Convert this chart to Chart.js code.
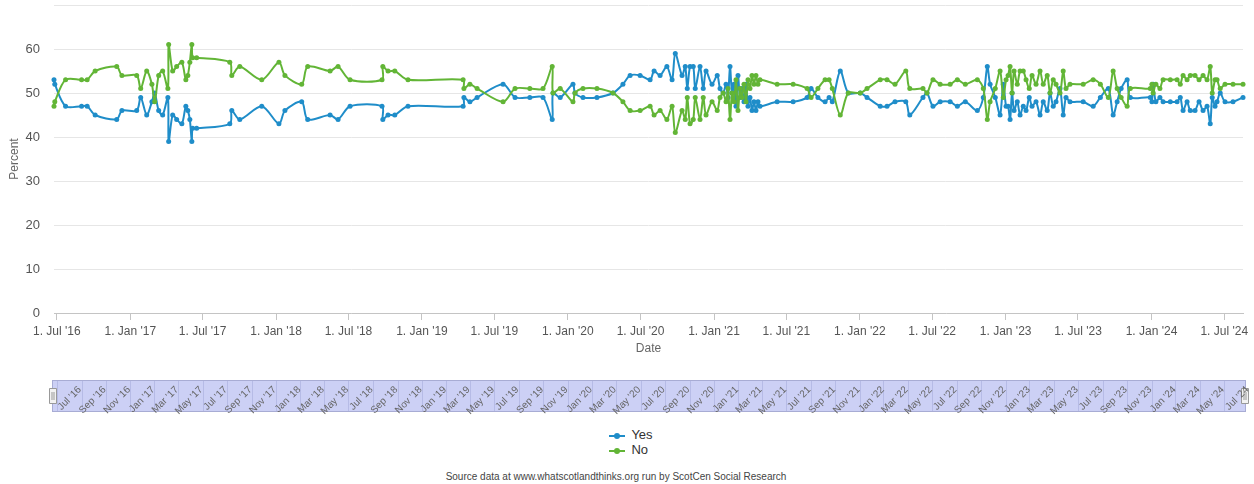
<!DOCTYPE html>
<html>
<head>
<meta charset="utf-8">
<script src="https://cdn.jsdelivr.net/npm/chart.js@4.4.1/dist/chart.umd.min.js"></script>
<style>
  body { margin: 0; background: #fff; font-family: "Liberation Sans", Arial, sans-serif; }
  #wrap { position: relative; width: 1254px; height: 484px; overflow: hidden; }
  canvas { position: absolute; left: 0; }
  #main { top: 0; }
  #nav { top: 370px; }
  #legend { position: absolute; top: 427px; left: 0; width: 1262px; text-align: center; }
  #legend .box { display: inline-block; text-align: left; }
  #legend .item { font-size: 13px; line-height: 15px; color: #333; white-space: nowrap; }
  #legend .mark { display: inline-block; position: relative; width: 16px; height: 2px; margin-right: 6px; vertical-align: middle; }
  #legend .mark::after { content: ""; position: absolute; left: 5px; top: -2px; width: 6px; height: 6px; border-radius: 50%; background: inherit; }
  #source { position: absolute; top: 470px; left: 0; width: 1232px; text-align: center; font-size: 10px; line-height: 14px; color: #444; }
</style>
</head>
<body>
<div id="wrap">
  <canvas id="main" width="1254" height="365"></canvas>
  <canvas id="nav" width="1254" height="50"></canvas>
  <div id="legend"><div class="box"></div></div>
  <div id="source">Source data at www.whatscotlandthinks.org run by ScotCen Social Research</div>
</div>
<script>
// poll fieldwork dates
const pollDates = [
  '2016-06-24','2016-06-26','2016-07-23','2016-09-01','2016-09-15','2016-10-05','2016-11-28','2016-12-11',
  '2017-01-17','2017-01-27','2017-02-11','2017-02-24','2017-03-03','2017-03-13','2017-03-23','2017-04-05',
  '2017-04-07','2017-04-17','2017-04-27','2017-05-10','2017-05-20','2017-05-25','2017-05-30','2017-06-04',
  '2017-06-06','2017-06-16','2017-09-07','2017-09-12','2017-10-02','2017-11-26',
  '2018-01-08','2018-01-23','2018-03-06','2018-03-21','2018-05-16','2018-06-05','2018-07-05','2018-09-23',
  '2018-09-25','2018-10-08','2018-10-25','2018-11-27',
  '2019-04-14','2019-04-16','2019-05-01','2019-05-19','2019-07-23','2019-08-22','2019-09-28','2019-10-31',
  '2019-11-23','2019-11-25','2019-12-13',
  '2020-01-14','2020-01-19','2020-02-08','2020-03-14','2020-04-23','2020-05-18','2020-06-05','2020-06-30',
  '2020-07-25','2020-08-04','2020-08-19','2020-09-05','2020-09-18','2020-09-26','2020-10-13','2020-10-21',
  '2020-10-26','2020-11-02','2020-11-10','2020-11-15','2020-11-27','2020-12-05','2020-12-12','2020-12-27',
  '2021-01-09','2021-01-16','2021-01-24','2021-01-31','2021-02-05','2021-02-10','2021-02-15','2021-02-20',
  '2021-02-25','2021-03-02','2021-03-07','2021-03-12','2021-03-17','2021-03-22','2021-03-27','2021-04-01',
  '2021-04-06','2021-04-11','2021-04-16','2021-04-21','2021-04-26','2021-06-08','2021-07-18','2021-08-22',
  '2021-09-01','2021-09-18','2021-10-06','2021-10-16','2021-10-24','2021-11-13','2021-12-03',
  '2022-01-02','2022-01-19','2022-02-21','2022-03-10','2022-03-30','2022-04-26','2022-05-06','2022-06-08',
  '2022-06-18','2022-07-03','2022-07-21','2022-08-15','2022-09-02','2022-09-22','2022-10-22','2022-11-06',
  '2022-11-16','2022-11-23','2022-12-06','2022-12-18','2022-12-26',
  '2023-01-02','2023-01-07','2023-01-12','2023-01-17','2023-01-22','2023-01-30','2023-02-06','2023-02-14',
  '2023-02-21','2023-03-01','2023-03-08','2023-03-18','2023-03-28','2023-04-05','2023-04-15','2023-04-22',
  '2023-04-30','2023-05-07','2023-05-17','2023-05-25','2023-06-01','2023-06-11','2023-07-14','2023-08-08',
  '2023-08-26','2023-09-15','2023-09-27','2023-10-07','2023-10-17','2023-11-01','2023-11-09','2023-12-29',
  '2024-01-02','2024-01-05','2024-01-12','2024-01-22','2024-01-30','2024-02-17','2024-03-05','2024-03-13',
  '2024-03-20','2024-03-30','2024-04-07','2024-04-19','2024-04-29','2024-05-09','2024-05-19','2024-05-27',
  '2024-06-01','2024-06-08','2024-06-13','2024-06-21','2024-07-03','2024-07-23','2024-08-17'
];

const yesValues = [
  53,52,47,47,47,45,44,46,
  46,49,45,48,50,46,45,49,39,45,44,43,47,46,44,39,42,42,43,46,44,47,
  43,46,48,44,45,44,47,47,44,45,45,47,
  47,49,48,49,52,49,49,49,44,50,49,
  52,50,49,49,50,52,54,54,53,55,54,56,53,59,54,56,51,56,56,51,56,51,55,52,
  54,51,50,52,49,56,50,52,47,54,49,51,48,52,47,49,46,48,46,48,47,48,48,49,51,49,48,49,48,55,50,
  50,49,47,47,48,48,45,49,50,47,48,48,47,48,46,49,56,52,49,45,52,
  47,47,44,50,46,48,45,47,46,49,47,48,45,48,46,50,47,48,51,45,49,48,48,47,49,51,45,48,51,53,49,49,
  48,52,48,49,48,48,48,49,46,48,46,46,48,46,47,43,49,47,48,50,48,48,49
];

const noValues = [
  47,48,53,53,53,55,56,54,
  54,51,55,52,48,54,55,51,61,55,56,57,53,54,57,61,58,58,57,54,56,53,
  57,54,52,56,55,56,53,53,56,55,55,53,
  53,51,52,51,48,51,51,51,56,50,51,
  48,50,51,51,50,48,46,46,47,45,46,44,47,41,46,44,49,43,44,49,44,49,45,48,
  46,49,50,48,51,44,50,48,53,46,51,49,52,48,53,51,54,52,54,52,53,52,52,51,49,51,53,53,51,45,50,
  50,51,53,53,52,55,51,51,50,53,52,52,53,52,53,51,44,48,51,55,49,
  53,54,56,50,55,52,55,55,53,51,54,52,55,52,54,50,53,52,50,55,51,52,52,53,52,49,55,51,49,47,51,51,
  52,50,52,51,53,53,53,52,54,53,54,54,53,54,53,56,50,53,53,51,52,52,52
];

const seriesNames = ['Yes', 'No'];
const axisTickDates = [
  '2016-07-01','2017-01-01','2017-07-01','2018-01-01','2018-07-01','2019-01-01','2019-07-01','2020-01-01',
  '2020-07-01','2021-01-01','2021-07-01','2022-01-01','2022-07-01','2023-01-01','2023-07-01','2024-01-01','2024-07-01'
];
const yTicks = [0, 10, 20, 30, 40, 50, 60, 70];

const BLUE = '#1f8dc9';
const GREEN = '#62b536';
const monthNames = ['Jan','Feb','Mar','Apr','May','Jun','Jul','Aug','Sep','Oct','Nov','Dec'];
const toMs = s => Date.parse(s + 'T00:00:00Z');
const yy = d => String(d.getUTCFullYear()).slice(2);
const fmtMain = v => { const d = new Date(v); return '1. ' + monthNames[d.getUTCMonth()] + " '" + yy(d); };
const fmtNav = v => { const d = new Date(v); return monthNames[d.getUTCMonth()] + " '" + yy(d); };

const xMin = toMs(pollDates[0]);
const xMax = toMs(pollDates[pollDates.length - 1]);

Chart.defaults.font.family = '"Liberation Sans", Arial, sans-serif';

const mainChart = new Chart(document.getElementById('main'), {
  type: 'line',
  data: {
    datasets: [
      {
        label: seriesNames[0],
        data: pollDates.map((d, i) => ({ x: toMs(d), y: yesValues[i] })),
        borderColor: BLUE, backgroundColor: BLUE, order: 1
      },
      {
        label: seriesNames[1],
        data: pollDates.map((d, i) => ({ x: toMs(d), y: noValues[i] })),
        borderColor: GREEN, backgroundColor: GREEN, order: 0
      }
    ]
  },
  options: {
    responsive: false,
    animation: false,
    layout: { padding: { top: 5, right: 11, left: 0, bottom: 0 } },
    elements: {
      line: { borderWidth: 2, tension: 0.3 },
      point: { radius: 2.5, borderWidth: 0, hoverRadius: 3 }
    },
    datasets: { line: { clip: 6 } },
    plugins: { legend: { display: false }, tooltip: { enabled: false } },
    scales: {
      x: {
        type: 'linear', min: xMin, max: xMax,
        afterBuildTicks: s => { s.ticks = axisTickDates.map(d => ({ value: toMs(d) })); },
        afterFit: s => { s.height = 52; s.paddingLeft = 0; s.paddingRight = 0; },
        grid: { drawOnChartArea: false, tickLength: 7, color: '#c4c4c4' },
        border: { color: '#c4c4c4' },
        ticks: { autoSkip: false, maxRotation: 0, padding: 4, color: '#555', font: { size: 12 }, callback: v => fmtMain(v) },
        title: { display: true, text: 'Date', color: '#666', font: { size: 12 }, padding: { top: 0, bottom: 9 } }
      },
      y: {
        min: 0, max: 70,
        afterBuildTicks: s => { s.ticks = yTicks.map(v => ({ value: v })); },
        afterFit: s => { s.width = 54; s.paddingTop = 0; s.paddingBottom = 0; },
        grid: { color: '#e6e6e6', drawTicks: false },
        border: { display: false },
        ticks: { padding: 14, color: '#555', font: { size: 13 }, callback: v => (v >= 70 ? '' : v) },
        title: { display: true, text: 'Percent', color: '#666', font: { size: 12 }, padding: { top: 7, bottom: 0 } }
      }
    }
  }
});

// navigator strip under the chart
const navTicks = [];
for (let y = 2016; y <= 2024; y++) {
  for (let m = 0; m < 12; m += 2) {
    const v = Date.UTC(y, m, 1);
    if (v >= toMs('2016-07-01') && v <= toMs('2024-07-01')) navTicks.push(v);
  }
}

function drawHandle(ctx, x, cy) {
  ctx.fillStyle = '#f2f2f2';
  ctx.strokeStyle = '#999';
  ctx.lineWidth = 1;
  ctx.beginPath();
  ctx.rect(x - 3.5, cy - 7.5, 7, 15);
  ctx.fill();
  ctx.stroke();
  ctx.beginPath();
  ctx.moveTo(x - 1, cy - 4); ctx.lineTo(x - 1, cy + 4);
  ctx.moveTo(x + 1, cy - 4); ctx.lineTo(x + 1, cy + 4);
  ctx.stroke();
}

const BAND_TOP = 10;
const BAND_H = 32;
const navBand = {
  id: 'navBand',
  beforeDraw(chart) {
    const { ctx, chartArea } = chart;
    const x = chart.scales.x;
    const top = BAND_TOP, h = BAND_H;
    const left = chartArea.left - 2, right = chartArea.right + 3;
    ctx.save();
    ctx.fillStyle = '#ccd0f5';
    ctx.fillRect(left, top, right - left, h);
    ctx.strokeStyle = '#b6bbe6';
    ctx.lineWidth = 1;
    x.ticks.forEach(t => {
      const px = Math.round(x.getPixelForValue(t.value)) + 0.5;
      ctx.beginPath();
      ctx.moveTo(px, top);
      ctx.lineTo(px, top + h);
      ctx.stroke();
    });
    ctx.strokeStyle = '#a8acd4';
    ctx.strokeRect(left + 0.5, top + 0.5, right - left - 1, h - 1);
    drawHandle(ctx, left + 1, top + h / 2);
    drawHandle(ctx, right - 1, top + h / 2);
    ctx.restore();
  }
};

new Chart(document.getElementById('nav'), {
  type: 'line',
  data: { datasets: [] },
  options: {
    responsive: false,
    animation: false,
    layout: { padding: { left: 54, right: 11, top: 5, bottom: 0 } },
    plugins: { legend: { display: false }, tooltip: { enabled: false } },
    scales: {
      x: {
        type: 'linear', min: xMin, max: xMax,
        afterBuildTicks: s => { s.ticks = navTicks.map(v => ({ value: v })); },
        afterFit: s => { s.height = 44; s.paddingLeft = 0; s.paddingRight = 0; },
        grid: { display: false },
        border: { display: false },
        ticks: {
          autoSkip: false, minRotation: 45, maxRotation: 45, labelOffset: 23, padding: 0,
          color: '#666', font: { size: 10 }, callback: v => fmtNav(v)
        }
      },
      y: { display: false }
    }
  },
  plugins: [navBand]
});

// legend built from the main chart's datasets
const box = document.querySelector('#legend .box');
mainChart.data.datasets.forEach(ds => {
  const row = document.createElement('div');
  row.className = 'item';
  const mark = document.createElement('span');
  mark.className = 'mark';
  mark.style.background = ds.borderColor;
  row.appendChild(mark);
  row.appendChild(document.createTextNode(ds.label));
  box.appendChild(row);
});
</script>
</body>
</html>
